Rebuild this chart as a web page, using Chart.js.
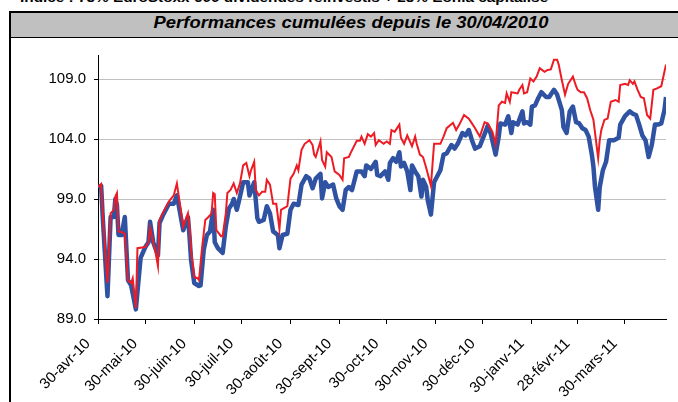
<!DOCTYPE html>
<html lang="fr">
<head>
<meta charset="utf-8">
<title>Performances cumulées</title>
<script src="https://cdn.jsdelivr.net/npm/chart.js@4.4.1/dist/chart.umd.min.js"></script>
<style>
  html, body { margin: 0; padding: 0; background: #fff; overflow: hidden; }
  body { width: 678px; height: 402px; position: relative; font-family: "Liberation Sans", Arial, sans-serif; }
  #entete { position: absolute; left: 20px; top: -10px; font-size: 13px; line-height: 15px; font-weight: bold; white-space: nowrap; transform: scaleX(1.18); transform-origin: left center; }
  #cadre { position: absolute; left: 9px; top: 11px; width: 700px; height: 430px; border: 2px solid #000; box-sizing: border-box; }
  #bandeau { position: absolute; left: 0; top: 0; right: 0; height: 24px; background: #c0c0c0; border-bottom: 1px solid #000; }
  #titre { position: absolute; left: 10px; width: 682px; top: 12px; text-align: center; font-size: 16px; line-height: 22px; font-weight: bold; font-style: italic; white-space: nowrap; transform: scaleX(1.15); }
  #graphique { position: absolute; left: 0; top: 0; }
</style>
</head>
<body>
<div id="entete">Indice : 75% EuroStoxx 600 dividendes réinvestis + 25% Eonia capitalisé</div>
<div id="cadre"><div id="bandeau"></div></div>
<div id="titre">Performances cumulées depuis le 30/04/2010</div>
<canvas id="graphique" width="678" height="402"></canvas>
<script>
// jours écoulés depuis le 30/04/2010 (base 100)
const joursIndice = [0,2,3,6,8,10,11,12,13,16,17,19,21,22,24,25,30,32,33,35,36,38,39,41,45,48,50,54,57,58,59,61,63,64,66,68,70,72,73,74,75,78,79,81,82,84,86,88,90,92,94,96,97,99,100,102,104,106,107,109,111,113,115,116,120,122,124,126,127,129,131,134,136,137,138,141,142,144,145,148,150,153,155,156,159,160,164,166,167,169,171,173,175,176,178,181,183,185,186,188,191,192,194,196,199,201,202,204,206,208,210,211,213,217,219,221,225,227,229,232,235,237,239,242,245,247,250,252,254,256,258,259,261,262,266,267,269,270,272,274,276,278,280,283,285,287,289,291,292,294,296,298,301,303,304,306,308,310,312,314,317,318,319,321,323,325,328,330,331,334,336,337,339,340,342,344,346,348,350,352,354,357,359,360];
const valeursIndice = [100.0,100.25,97.8,92.0,97.8,98.1,99.2,99.5,96.3,96.2,96.1,92.2,92.0,92.4,89.9,94.9,95.0,95.4,96.6,95.4,94.9,93.4,97.25,97.8,98.8,99.3,100.3,96.7,97.8,96.7,94.75,92.5,92.4,92.25,95.0,97.25,97.5,97.8,99.5,99.4,96.4,95.9,95.9,97.8,99.5,99.75,100.3,99.5,100.3,101.8,102.0,100.9,101.4,102.1,99.75,99.3,99.6,99.6,100.6,100.2,98.6,98.6,96.5,98.1,98.4,100.7,101.1,101.8,101.4,103.1,103.6,103.9,103.5,102.7,102.5,103.8,102.25,101.7,102.9,102.5,101.3,101.0,100.6,102.4,102.5,102.8,103.85,103.85,104.2,103.6,104.4,104.2,104.5,103.5,103.9,103.6,103.8,103.6,104.75,104.6,105.2,104.1,103.6,104.3,103.4,104.2,103.6,102.7,102.5,101.6,100.6,100.1,103.6,103.6,104.2,104.9,105.35,104.75,105.2,106.0,105.7,105.3,104.9,104.2,105.4,105.3,104.6,103.6,106.8,107.1,107.0,107.8,107.1,107.9,107.8,108.1,108.5,107.8,107.9,109.05,108.8,109.2,109.9,109.6,109.75,109.8,110.6,110.6,110.2,108.9,107.7,108.6,109.2,108.4,108.1,107.9,107.9,107.4,106.4,105.6,102.4,103.9,104.75,105.6,105.7,107.1,107.25,107.1,108.5,108.6,108.5,108.9,108.6,108.8,108.1,107.5,107.4,106.0,105.7,108.1,108.2,108.4,109.6,110.2];

const joursFonds = [0,2,3,6,8,10,11,12,13,15,17,19,21,24,27,30,32,33,35,38,39,41,45,48,50,54,57,58,59,61,64,65,67,69,71,73,74,76,79,81,83,85,86,88,90,92,95,96,99,101,102,105,107,109,111,114,115,117,120,122,124,127,129,132,134,136,138,141,142,144,146,149,151,153,155,157,159,161,164,167,169,170,173,176,177,179,182,184,185,187,189,191,192,194,196,198,199,201,203,205,206,208,209,211,213,217,219,221,224,226,228,231,233,235,237,239,242,245,247,249,252,254,255,258,260,262,263,266,267,269,270,272,274,275,277,279,281,284,286,287,289,291,294,295,297,299,301,303,305,307,309,311,313,314,315,317,318,320,322,324,327,330,331,334,337,339,341,343,345,347,349,351,353,355,357,359,360];
const valeursFonds = [100.0,100.1,97.5,90.9,97.5,97.5,99.0,98.5,96.0,96.0,97.5,92.25,91.8,89.8,94.1,95.0,95.4,97.1,95.4,94.3,97.0,97.6,98.6,98.6,99.3,96.4,97.5,95.9,93.9,92.0,91.75,91.8,94.75,96.0,96.3,98.1,95.4,94.9,94.5,96.7,98.2,98.6,99.0,98.1,99.2,100.4,100.4,99.3,100.4,97.4,97.1,97.25,98.4,97.8,96.3,96.0,94.9,96.0,96.1,98.1,98.6,98.5,100.2,100.9,100.7,99.9,100.7,101.1,99.05,100.4,100.0,100.2,99.05,98.4,98.1,99.75,100.0,99.75,101.3,101.3,100.9,101.8,101.5,102.1,101.0,100.9,101.3,100.6,102.0,102.4,102.1,102.9,101.7,102.0,101.3,99.75,101.8,101.3,100.9,99.2,100.6,100.0,98.9,97.7,100.4,101.4,102.7,102.8,103.5,103.2,103.6,104.5,104.3,104.75,103.9,103.2,103.4,104.4,105.1,104.4,102.7,104.2,105.3,105.2,105.9,104.5,105.4,105.2,105.6,106.3,105.3,105.4,105.2,106.7,106.8,107.4,107.9,107.5,107.5,107.7,108.1,107.7,106.4,105.0,104.5,106.3,106.7,105.4,105.3,104.9,104.75,104.2,102.7,101.7,100.0,98.1,100.0,101.4,102.1,103.9,103.9,104.1,105.2,105.9,106.3,106.1,106.0,105.2,104.3,103.9,102.5,103.5,105.2,105.2,105.3,106.4,107.5];

const datesTicks = ['2010-04-30','2010-05-30','2010-06-30','2010-07-30','2010-08-30','2010-09-30','2010-10-30','2010-11-30','2010-12-30','2011-01-30','2011-02-28','2011-03-30'];
const etiquettesX = ['30-avr-10','30-mai-10','30-juin-10','30-juil-10','30-août-10','30-sept-10','30-oct-10','30-nov-10','30-déc-10','30-janv-11','28-févr-11','30-mars-11'];
const ticksY = [89, 94, 99, 104, 109];

const debut = Date.parse('2010-04-30');
const joursTicks = datesTicks.map(d => Math.round((Date.parse(d) - debut) / 86400000));
const police = { family: "'Liberation Sans', Arial, sans-serif", size: 15 };

const ctx = document.getElementById('graphique').getContext('2d');
new Chart(ctx, {
    type: 'line',
    data: {
        datasets: [{
            label: 'Indice',
            data: joursIndice.map((j, i) => ({ x: j, y: valeursIndice[i] })),
            borderColor: '#ed1c24',
            borderWidth: 2,
            pointRadius: 0,
            tension: 0
        }, {
            label: 'Fonds',
            data: joursFonds.map((j, i) => ({ x: j, y: valeursFonds[i] })),
            borderColor: '#2f52a2',
            borderWidth: 4.5,
            borderJoinStyle: 'round',
            pointRadius: 0,
            tension: 0
        }]
    },
    options: {
        responsive: false,
        animation: false,
        layout: { padding: { top: 55, right: 12, left: 0, bottom: 0 } },
        plugins: { legend: { display: false }, tooltip: { enabled: false } },
        scales: {
            x: {
                type: 'linear',
                min: 0,
                max: 360,
                afterBuildTicks: s => { s.ticks = joursTicks.map(v => ({ value: v })); },
                afterFit: s => { s.height = 83; },
                grid: { drawOnChartArea: false, tickLength: 5, tickColor: '#000' },
                border: { color: '#000', width: 1 },
                ticks: {
                    autoSkip: false,
                    maxRotation: 45,
                    minRotation: 45,
                    padding: 11,
                    labelOffset: -10,
                    color: '#000',
                    font: police,
                    callback: (v, i) => etiquettesX[i]
                }
            },
            y: {
                min: 89,
                max: 111,
                afterBuildTicks: s => { s.ticks = ticksY.map(v => ({ value: v })); },
                afterFit: s => { s.width = 98; },
                grid: { color: '#c0c0c0', tickLength: 4, tickColor: '#000' },
                border: { color: '#000', width: 1 },
                ticks: {
                    padding: 8,
                    color: '#000',
                    font: police,
                    callback: v => v.toFixed(1)
                }
            }
        }
    }
});
</script>
</body>
</html>
